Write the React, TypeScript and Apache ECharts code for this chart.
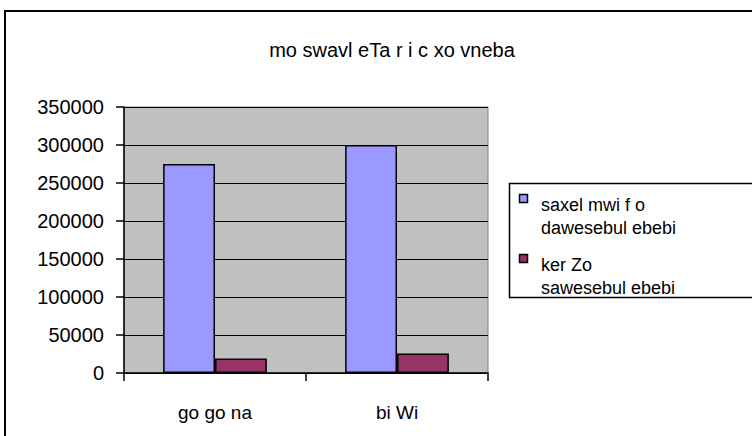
import React, { useEffect, useRef } from "react";
import * as echarts from "echarts";

const titleText = "mo swavl eTa r i c xo vneba";
const categories = ["go go na", "bi Wi"];
const seriesNames = ["saxel mwi f o\ndawesebul ebebi", "ker Zo\nsawesebul ebebi"];
const seriesA = [275000, 300000];
const seriesB = [19000, 25500];
const colors = ["#9999FF", "#993366"];
const yMin = 0;
const yMax = 350000;
const yStep = 50000;

const FONT = "Liberation Sans, Arial, sans-serif";

export default function App() {
  const ref = useRef<HTMLDivElement>(null);
  useEffect(() => {
    if (!ref.current) return;
    const chart = echarts.init(ref.current, undefined, { renderer: "svg" });
    const legendTop = [193, 253];
    const legendGraphics: any[] = [];
    seriesNames.forEach((n, i) => {
      legendGraphics.push({
        type: "rect",
        shape: { x: 519.5, y: legendTop[i] + 1.5, width: 8, height: 8 },
        style: { fill: colors[i], stroke: "#000", lineWidth: 1.5 },
      });
      legendGraphics.push({
        type: "text",
        x: 541,
        y: legendTop[i],
        style: {
          text: n,
          fill: "#000",
          font: `18px ${FONT}`,
          lineHeight: 23,
          textAlign: "left",
          textVerticalAlign: "top",
        },
      });
    });
    chart.setOption({
      animation: false,
      backgroundColor: "#fff",
      title: {
        text: titleText,
        left: 387,
        top: 35,
        textAlign: "center",
        textStyle: { fontFamily: FONT, fontSize: 20, fontWeight: "normal", color: "#000" },
      },
      grid: {
        left: 124,
        top: 107,
        right: 264,
        bottom: 63,
        show: true,
        backgroundColor: "#C0C0C0",
        borderColor: "#808080",
        borderWidth: 1,
      },
      xAxis: {
        type: "category",
        data: categories,
        boundaryGap: true,
        axisLine: { lineStyle: { color: "#000", width: 1.5 } },
        axisTick: { show: true, length: 8, alignWithLabel: false, lineStyle: { color: "#000", width: 1.5 } },
        axisLabel: { margin: 30, color: "#000", fontFamily: FONT, fontSize: 19 },
        splitLine: { show: false },
      },
      yAxis: {
        type: "value",
        min: yMin,
        max: yMax,
        interval: yStep,
        axisLine: { show: true, lineStyle: { color: "#000", width: 1.5 } },
        axisTick: { show: true, length: 8, lineStyle: { color: "#000", width: 1.5 } },
        axisLabel: {
          margin: 20,
          color: "#000",
          fontFamily: FONT,
          fontSize: 20,
          formatter: (v: number) => String(v),
        },
        splitLine: { show: true, lineStyle: { color: "#000", width: 1.2 } },
      },
      series: [
        {
          type: "bar",
          name: seriesNames[0],
          data: seriesA,
          barGap: "0%",
          barCategoryGap: "43%",
          itemStyle: { color: colors[0], borderColor: "#000", borderWidth: 1.5 },
        },
        {
          type: "bar",
          name: seriesNames[1],
          data: seriesB,
          barGap: "0%",
          barCategoryGap: "43%",
          itemStyle: { color: colors[1], borderColor: "#000", borderWidth: 1.5 },
        },
      ],
      graphic: [
        {
          type: "rect",
          shape: { x: 5, y: 11, width: 800, height: 500 },
          style: { fill: "none", stroke: "#000", lineWidth: 2 },
          silent: true,
        },
        {
          type: "rect",
          shape: { x: 509.5, y: 183.5, width: 300, height: 114 },
          style: { fill: "#fff", stroke: "#000", lineWidth: 1.5 },
          silent: true,
        },
        ...legendGraphics,
      ],
    });
    return () => chart.dispose();
  }, []);
  return (
    <div
      ref={ref}
      style={{ position: "absolute", left: 0, top: 0, width: 752, height: 436 }}
    />
  );
}
